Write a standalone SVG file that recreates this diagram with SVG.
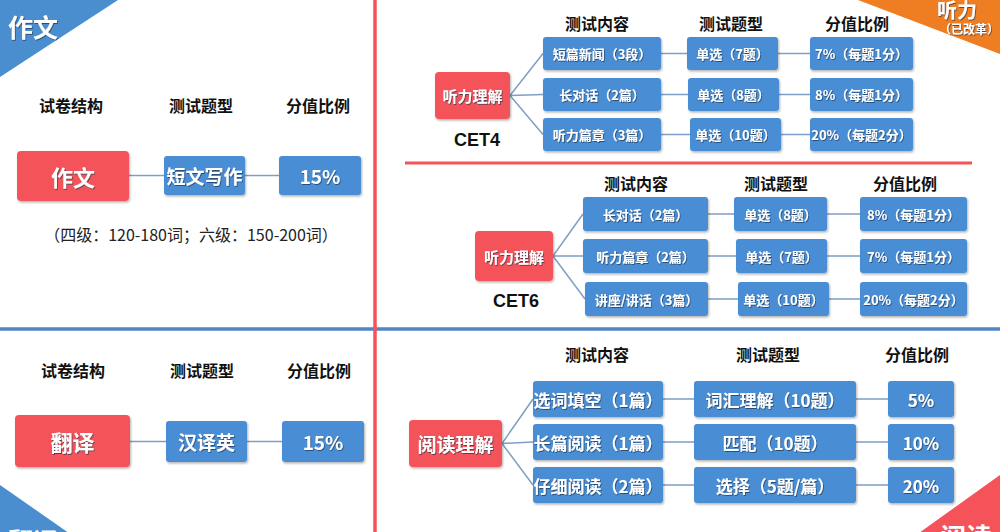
<svg xmlns="http://www.w3.org/2000/svg" width="1000" height="532" viewBox="0 0 1000 532">
<defs>
<filter id="bs" x="-10%" y="-10%" width="125%" height="135%">
<feDropShadow dx="1" dy="1.5" stdDeviation="1.2" flood-color="#000" flood-opacity="0.3"/>
</filter>
<filter id="ts" x="-5%" y="-10%" width="115%" height="130%">
<feDropShadow dx="0.8" dy="1" stdDeviation="0.5" flood-color="#1a3050" flood-opacity="0.7"/>
</filter>
<style>
text{font-family:"Noto Sans CJK SC","Liberation Sans",sans-serif;}
.hd{font-size:16px;font-weight:bold;fill:#111;text-anchor:middle;}
.bx{fill:#4a8ed4;filter:url(#bs);}
.rd{fill:#f5525a;filter:url(#bs);}
.wt{fill:#fff;text-anchor:middle;dominant-baseline:central;font-weight:bold;filter:url(#ts);}
.s13{font-size:13px;}
.s15{font-size:15px;}
.s17{font-size:17px;}
.s19{font-size:19px;}
.s22{font-size:22px;}
.cn{stroke:#7f9ec6;stroke-width:1.5;fill:none;}
.cet{font-family:"Liberation Sans",sans-serif;font-size:18px;font-weight:bold;fill:#111;text-anchor:middle;}
</style>
</defs>
<rect width="1000" height="532" fill="#fff"/>

<!-- corner banners -->
<g id="banner-zuowen">
<polygon points="0,0 118,0 0,77" fill="#4a8ed0"/>
<text x="8" y="37" font-size="25" font-weight="bold" fill="#fff" filter="url(#ts)">作文</text>
</g>
<g id="banner-tingli">
<polygon points="858,0 1000,0 1000,54" fill="#ef7d22"/>
<text x="957" y="18" font-size="20" font-weight="bold" fill="#fff" text-anchor="middle" filter="url(#ts)">听力</text>
<text x="969" y="34" font-size="12" font-weight="bold" fill="#fff" text-anchor="middle" filter="url(#ts)">（已改革）</text>
</g>
<g id="banner-fanyi">
<polygon points="0,485 76,538 0,538" fill="#4a8ed0"/>
<text x="8" y="551" font-size="25" font-weight="bold" fill="#fff">翻译</text>
</g>
<g id="banner-yuedu">
<polygon points="912,538 1000,475 1000,538" fill="#f5525a"/>
<text x="940" y="547" font-size="26" font-weight="bold" fill="#fff">阅读</text>
</g>

<!-- dividers -->
<g id="dividers">
<line x1="0" y1="329" x2="1000" y2="329" stroke="#4f86c6" stroke-width="3.5"/>
<line x1="375" y1="0" x2="375" y2="532" stroke="#f5525a" stroke-width="3.5"/>
<line x1="405" y1="163" x2="972" y2="163" stroke="#f5525a" stroke-width="3"/>
</g>

<!-- connectors -->
<g id="connectors">
<line class="cn" x1="129" y1="175.5" x2="164" y2="175.5"/>
<line class="cn" x1="245" y1="175.5" x2="279" y2="175.5"/>
<line class="cn" x1="130" y1="441.5" x2="166" y2="441.5"/>
<line class="cn" x1="247" y1="441.5" x2="282" y2="441.5"/>
<!-- CET4 -->
<path class="cn" d="M510,95.5 L543,53.5 M510,95.5 L543,94.5 M510,95.5 L543,134.5"/>
<path class="cn" d="M661,53.5 H687 M778,53.5 H810 M661,94.5 H688 M779,94.5 H810 M661,134.5 H690 M781,134.5 H810"/>
<!-- CET6 -->
<path class="cn" d="M553,256 L583,214 M553,256 L583,256 M553,256 L585,299"/>
<path class="cn" d="M708,214 H734 M827,214 H860 M708,256 H736 M827,256 H860 M708,299 H738 M829,299 H860"/>
<!-- Reading -->
<path class="cn" d="M502,443.5 L533,399 M502,443.5 L533,442 M502,443.5 L533,485"/>
<path class="cn" d="M663,399 H694 M856,399 H888 M663,442 H694 M856,442 H888 M663,485 H694 M856,485 H888"/>
</g>

<!-- Writing section -->
<g id="writing-headers">
<text class="hd" x="71" y="112">试卷结构</text>
<text class="hd" x="201" y="112">测试题型</text>
<text class="hd" x="318" y="112">分值比例</text>
</g>
<g id="node-zuowen"><rect class="rd" x="17" y="151" width="112" height="50" rx="4"/><text class="wt s22" x="73" y="176">作文</text></g>
<g id="node-duanwen"><rect class="bx" x="164" y="156" width="81" height="39" rx="3"/><text class="wt s19" x="204.5" y="175.5">短文写作</text></g>
<g id="node-zw15"><rect class="bx" x="279" y="156" width="82" height="39" rx="3"/><text class="wt s19" x="320" y="175.5">15%</text></g>
<text x="191" y="241" font-size="16" fill="#222" text-anchor="middle">（四级：120-180词；六级：150-200词）</text>

<!-- Translation section -->
<g id="trans-headers">
<text class="hd" x="73" y="377">试卷结构</text>
<text class="hd" x="202" y="377">测试题型</text>
<text class="hd" x="319" y="377">分值比例</text>
</g>
<g id="node-fanyi"><rect class="rd" x="15" y="415" width="115" height="52" rx="4"/><text class="wt s22" x="72.5" y="441">翻译</text></g>
<g id="node-hanyiying"><rect class="bx" x="166" y="421" width="81" height="41" rx="3"/><text class="wt s19" x="206.5" y="441.5">汉译英</text></g>
<g id="node-fy15"><rect class="bx" x="282" y="421" width="82" height="41" rx="3"/><text class="wt s19" x="323" y="441.5">15%</text></g>

<!-- CET4 listening -->
<g id="cet4-headers">
<text class="hd" x="597" y="30">测试内容</text>
<text class="hd" x="731" y="30">测试题型</text>
<text class="hd" x="857" y="30">分值比例</text>
<text class="cet" x="477" y="146">CET4</text>
</g>
<g id="c4-root"><rect class="rd" x="435" y="72" width="75" height="47" rx="4"/><text class="wt s15" x="472.5" y="95.5">听力理解</text></g>
<g id="c4-r1c1"><rect class="bx" x="543" y="37" width="118" height="33" rx="3"/><text class="wt s13" x="602" y="53.5">短篇新闻（3段）</text></g>
<g id="c4-r1c2"><rect class="bx" x="687" y="37" width="91" height="33" rx="3"/><text class="wt s13" x="732.5" y="53.5">单选（7题）</text></g>
<g id="c4-r1c3"><rect class="bx" x="810" y="37" width="103" height="33" rx="3"/><text class="wt s13" x="861.5" y="53.5">7%（每题1分）</text></g>
<g id="c4-r2c1"><rect class="bx" x="543" y="78" width="118" height="33" rx="3"/><text class="wt s13" x="602" y="94.5">长对话（2篇）</text></g>
<g id="c4-r2c2"><rect class="bx" x="688" y="78" width="91" height="33" rx="3"/><text class="wt s13" x="733.5" y="94.5">单选（8题）</text></g>
<g id="c4-r2c3"><rect class="bx" x="810" y="78" width="103" height="33" rx="3"/><text class="wt s13" x="861.5" y="94.5">8%（每题1分）</text></g>
<g id="c4-r3c1"><rect class="bx" x="543" y="118" width="118" height="33" rx="3"/><text class="wt s13" x="602" y="134.5">听力篇章（3篇）</text></g>
<g id="c4-r3c2"><rect class="bx" x="690" y="118" width="91" height="33" rx="3"/><text class="wt s13" x="735.5" y="134.5">单选（10题）</text></g>
<g id="c4-r3c3"><rect class="bx" x="810" y="118" width="103" height="33" rx="3"/><text class="wt s13" x="861.5" y="134.5">20%（每题2分）</text></g>

<!-- CET6 listening -->
<g id="cet6-headers">
<text class="hd" x="636" y="190">测试内容</text>
<text class="hd" x="776" y="190">测试题型</text>
<text class="hd" x="905" y="190">分值比例</text>
<text class="cet" x="516" y="307">CET6</text>
</g>
<g id="c6-root"><rect class="rd" x="475" y="231" width="78" height="50" rx="4"/><text class="wt s15" x="514" y="256">听力理解</text></g>
<g id="c6-r1c1"><rect class="bx" x="583" y="197" width="125" height="34" rx="3"/><text class="wt s13" x="645.5" y="214">长对话（2篇）</text></g>
<g id="c6-r1c2"><rect class="bx" x="734" y="197" width="93" height="34" rx="3"/><text class="wt s13" x="780.5" y="214">单选（8题）</text></g>
<g id="c6-r1c3"><rect class="bx" x="860" y="197" width="107" height="34" rx="3"/><text class="wt s13" x="913.5" y="214">8%（每题1分）</text></g>
<g id="c6-r2c1"><rect class="bx" x="583" y="239" width="125" height="34" rx="3"/><text class="wt s13" x="645.5" y="256">听力篇章（2篇）</text></g>
<g id="c6-r2c2"><rect class="bx" x="736" y="239" width="91" height="34" rx="3"/><text class="wt s13" x="781.5" y="256">单选（7题）</text></g>
<g id="c6-r2c3"><rect class="bx" x="860" y="239" width="107" height="34" rx="3"/><text class="wt s13" x="913.5" y="256">7%（每题1分）</text></g>
<g id="c6-r3c1"><rect class="bx" x="585" y="282" width="123" height="34" rx="3"/><text class="wt s13" x="646.5" y="299">讲座/讲话（3篇）</text></g>
<g id="c6-r3c2"><rect class="bx" x="738" y="282" width="91" height="34" rx="3"/><text class="wt s13" x="783.5" y="299">单选（10题）</text></g>
<g id="c6-r3c3"><rect class="bx" x="860" y="282" width="107" height="34" rx="3"/><text class="wt s13" x="913.5" y="299">20%（每题2分）</text></g>

<!-- Reading -->
<g id="read-headers">
<text class="hd" x="597" y="361">测试内容</text>
<text class="hd" x="768" y="361">测试题型</text>
<text class="hd" x="917" y="361">分值比例</text>
</g>
<g id="rd-root"><rect class="rd" x="409" y="420" width="93" height="47" rx="4"/><text class="wt s19" x="455.5" y="443.5">阅读理解</text></g>
<g id="rd-r1c1"><rect class="bx" x="533" y="381" width="130" height="36" rx="3"/><text class="wt s17" x="598" y="399">选词填空（1篇）</text></g>
<g id="rd-r1c2"><rect class="bx" x="694" y="381" width="162" height="36" rx="3"/><text class="wt s17" x="775" y="399">词汇理解（10题）</text></g>
<g id="rd-r1c3"><rect class="bx" x="888" y="381" width="66" height="36" rx="3"/><text class="wt s17" x="921" y="399">5%</text></g>
<g id="rd-r2c1"><rect class="bx" x="533" y="424" width="130" height="36" rx="3"/><text class="wt s17" x="598" y="442">长篇阅读（1篇）</text></g>
<g id="rd-r2c2"><rect class="bx" x="694" y="424" width="162" height="36" rx="3"/><text class="wt s17" x="775" y="442">匹配（10题）</text></g>
<g id="rd-r2c3"><rect class="bx" x="888" y="424" width="66" height="36" rx="3"/><text class="wt s17" x="921" y="442">10%</text></g>
<g id="rd-r3c1"><rect class="bx" x="533" y="467" width="130" height="36" rx="3"/><text class="wt s17" x="598" y="485">仔细阅读（2篇）</text></g>
<g id="rd-r3c2"><rect class="bx" x="694" y="467" width="162" height="36" rx="3"/><text class="wt s17" x="775" y="485">选择（5题/篇）</text></g>
<g id="rd-r3c3"><rect class="bx" x="888" y="467" width="66" height="36" rx="3"/><text class="wt s17" x="921" y="485">20%</text></g>
</svg>
